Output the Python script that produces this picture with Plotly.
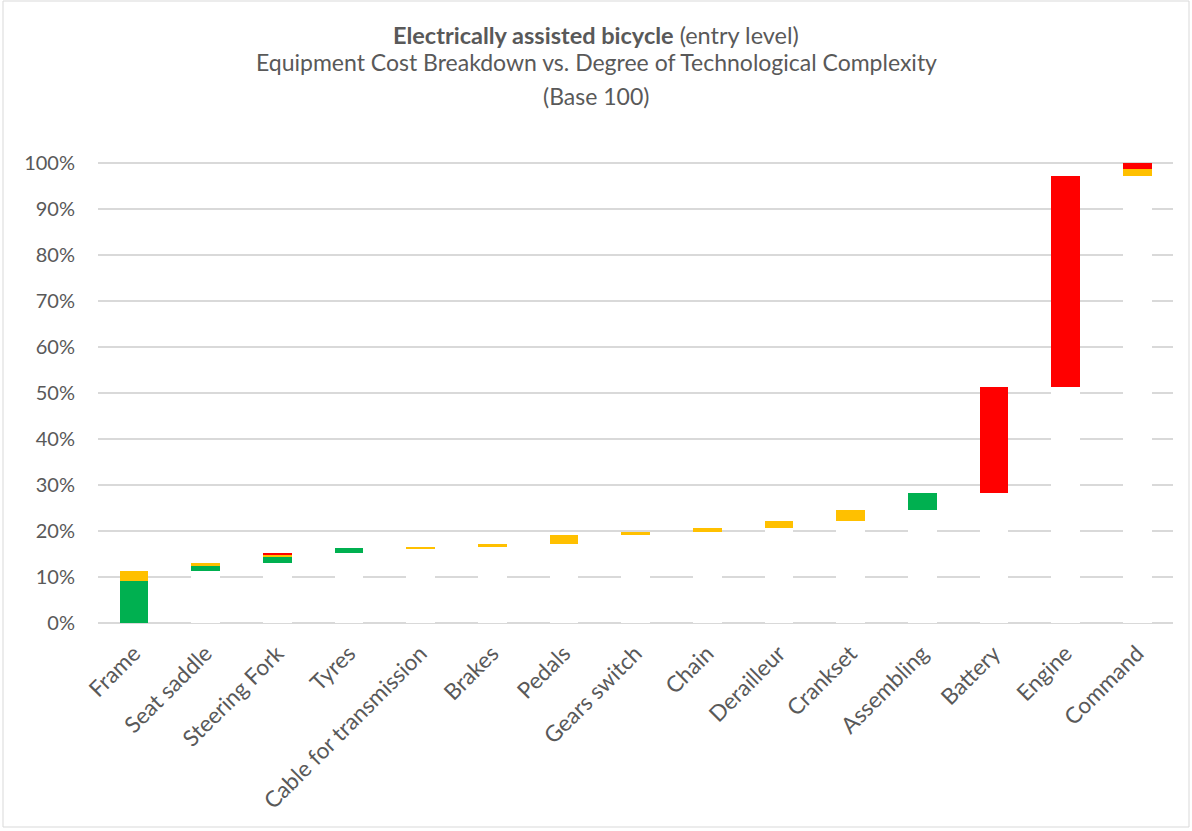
import plotly.graph_objects as go

categories = ["Frame", "Seat saddle", "Steering Fork", "Tyres", "Cable for transmission",
              "Brakes", "Pedals", "Gears switch", "Chain", "Derailleur", "Crankset",
              "Assembling", "Battery", "Engine", "Command"]
low_tech = [9.1, 1.2, 1.5, 1.0, 0, 0, 0, 0, 0, 0, 0, 3.8, 0, 0, 0]        # green
mid_tech = [2.3, 0.4, 0.35, 0, 0.25, 0.65, 1.9, 0.75, 0.9, 1.45, 2.35, 0, 0, 0, 1.4]  # yellow
high_tech = [0, 0, 0.4, 0, 0, 0, 0, 0, 0, 0, 0, 0, 22.9, 46.0, 1.4]      # red
y_ticks = list(range(0, 101, 10))
y_tick_labels = [f"{v}%" for v in y_ticks]

# waterfall base: cumulative sum of previous categories
base = []
running = 0.0
for g, y, r in zip(low_tech, mid_tech, high_tech):
    base.append(running)
    running += g + y + r

GREEN = "#00B050"
YELLOW = "#FFC000"
RED = "#FF0000"
TXT = "#595959"
FONT = "Lato"

fig = go.Figure()
fig.add_trace(go.Bar(x=categories, y=base, marker=dict(color="white", line=dict(width=0)),
                     hoverinfo="skip", showlegend=False))
fig.add_trace(go.Bar(x=categories, y=low_tech, marker=dict(color=GREEN, line=dict(width=0)),
                     showlegend=False))
fig.add_trace(go.Bar(x=categories, y=mid_tech, marker=dict(color=YELLOW, line=dict(width=0)),
                     showlegend=False))
fig.add_trace(go.Bar(x=categories, y=high_tech, marker=dict(color=RED, line=dict(width=0)),
                     showlegend=False))

L, R, T, B = 98, 19, 161, 208
W, H = 1192, 831
pw = W - L - R
ph = H - T - B
cx = (W / 2 - L) / pw

fig.update_layout(
    width=W, height=H,
    barmode="stack", bargap=0.6,
    margin=dict(l=L, r=R, t=T, b=B),
    paper_bgcolor="white", plot_bgcolor="white",
    font=dict(family=FONT, color=TXT),
    xaxis=dict(tickangle=-45, tickfont=dict(size=22.5, color=TXT, family=FONT),
               showgrid=False, showline=False, ticks="", ticklabelstandoff=12),
    yaxis=dict(range=[0, 100.4], tickvals=y_ticks, ticktext=y_tick_labels,
               tickfont=dict(size=20, color=TXT, family=FONT),
               showgrid=True, gridcolor="#D9D9D9", gridwidth=1.5,
               zeroline=True, zerolinecolor="#D9D9D9", zerolinewidth=1.5,
               showline=False, ticks="", ticklabelstandoff=22),
    annotations=[
        dict(text="<b>Electrically assisted bicycle</b> (entry level)", x=cx, xref="paper",
             y=(H - B - 35) / ph, yref="paper", showarrow=False, xanchor="center",
             yanchor="middle", font=dict(size=23.5, color=TXT, family=FONT)),
        dict(text="Equipment Cost Breakdown vs. Degree of Technological Complexity", x=cx,
             xref="paper", y=(H - B - 62) / ph, yref="paper", showarrow=False,
             xanchor="center", yanchor="middle", font=dict(size=23, color=TXT, family=FONT)),
        dict(text="(Base 100)", x=cx, xref="paper", y=(H - B - 96) / ph, yref="paper",
             showarrow=False, xanchor="center", yanchor="middle",
             font=dict(size=23, color=TXT, family=FONT)),
    ],
    shapes=[dict(type="rect", xref="paper", yref="paper",
                 x0=(3 - L) / pw, x1=(W - 3 - L) / pw,
                 y0=-(B - 4) / ph, y1=(H - B - 1) / ph,
                 line=dict(color="#D9D9D9", width=1), fillcolor="rgba(0,0,0,0)", layer="below")],
)

fig.write_html("out.html")
